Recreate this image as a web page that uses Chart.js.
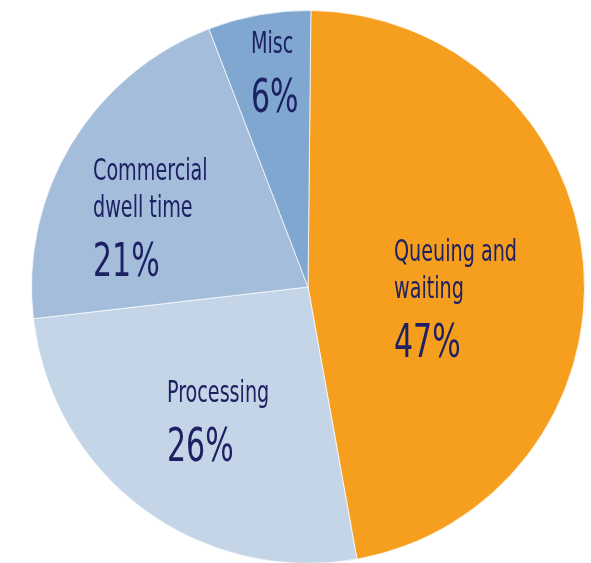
<!DOCTYPE html>
<html>
<head>
<meta charset="utf-8">
<script src="https://cdn.jsdelivr.net/npm/chart.js@4"></script>
<style>
  html, body { margin: 0; padding: 0; background: #fff; overflow: hidden; }
  #wrap { width: 591px; height: 565px; position: relative; }
</style>
</head>
<body>
<div id="wrap"><canvas id="timeChart"></canvas></div>
<script>
// data
const categories = ['Queuing and\nwaiting', 'Processing', 'Commercial\ndwell time', 'Misc'];
const shares = [47, 26, 21, 6];
const sliceColors = ['#F69F1F', '#C4D5E8', '#A3BDDB', '#7FA7D0'];

// label block placement, px from the pie centre (left edge, first baseline)
const labelOffsets = [[86, -26], [-141, 115], [-215, -107], [-57, -234]];

const textColor = '#1D2163';
const condense = 0.71;

const pieLabels = {
  id: 'pieLabels',
  afterDatasetsDraw(chart) {
    const ctx = chart.ctx;
    const arcs = chart.getDatasetMeta(0).data;
    ctx.save();
    ctx.fillStyle = textColor;
    ctx.textBaseline = 'alphabetic';
    ctx.textAlign = 'left';
    arcs.forEach((arc, i) => {
      const x = arc.x + labelOffsets[i][0];
      let y = arc.y + labelOffsets[i][1];
      const lines = categories[i].split('\n');
      ctx.font = '30px "Liberation Sans Narrow", "DejaVu Sans Condensed", sans-serif';
      lines.forEach((line, j) => {
        ctx.save();
        ctx.translate(x, y + j * 37);
        ctx.scale(condense, 1);
        ctx.fillText(line, 0, 0);
        ctx.restore();
      });
      y += (lines.length - 1) * 37 + 59;
      ctx.font = '47px "Liberation Sans Narrow", "DejaVu Sans Condensed", sans-serif';
      ctx.save();
      ctx.translate(x, y);
      ctx.scale(condense, 1);
      ctx.fillText(shares[i] + '%', 0, 0);
      ctx.restore();
    });
    ctx.restore();
  }
};

new Chart(document.getElementById('timeChart'), {
  type: 'pie',
  data: {
    labels: categories,
    datasets: [{
      data: shares,
      backgroundColor: sliceColors,
      borderColor: 'rgba(255,255,255,0.7)',
      borderWidth: 1
    }]
  },
  options: {
    responsive: true,
    maintainAspectRatio: false,
    animation: false,
    rotation: 0.6,
    layout: { padding: { left: 31, right: 6, top: 10, bottom: 1 } },
    plugins: {
      legend: { display: false },
      tooltip: { enabled: false }
    }
  },
  plugins: [pieLabels]
});
</script>
</body>
</html>
